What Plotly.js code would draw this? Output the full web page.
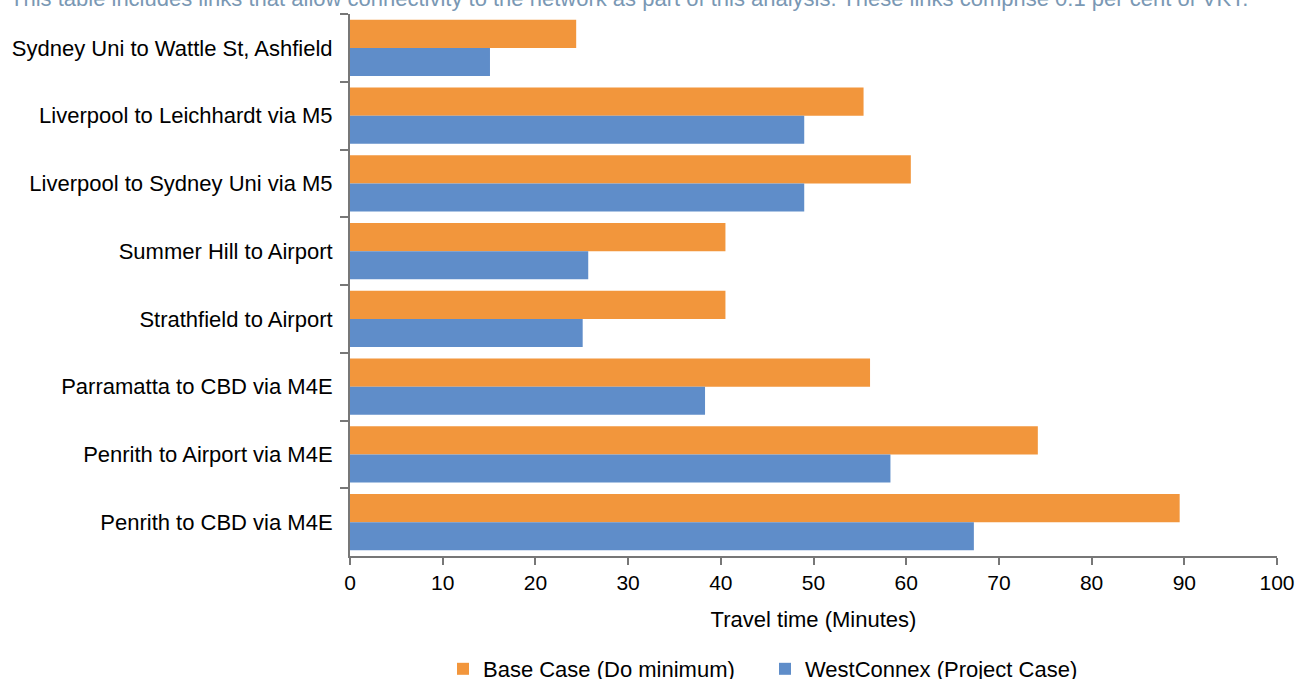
<!DOCTYPE html>
<html>
<head>
<meta charset="utf-8">
<script src="https://cdn.plot.ly/plotly-3.0.1.min.js"></script>
<style>html,body{margin:0;padding:0;background:#fff;}#chart{width:1296px;height:679px;}</style>
</head>
<body>
<div id="chart"></div>
<script>
const categories = [
  "Sydney Uni to Wattle St, Ashfield",
  "Liverpool to Leichhardt via M5",
  "Liverpool to Sydney Uni via M5",
  "Summer Hill to Airport",
  "Strathfield to Airport",
  "Parramatta to CBD via M4E",
  "Penrith to Airport via M4E",
  "Penrith to CBD via M4E"
];
const baseCase = [24.4, 55.4, 60.5, 40.5, 40.5, 56.1, 74.2, 89.5];
const westConnex = [15.1, 49.0, 49.0, 25.7, 25.1, 38.3, 58.3, 67.3];
const seriesNames = ["Base Case (Do minimum)", "WestConnex (Project Case)"];
const xTicks = [0, 10, 20, 30, 40, 50, 60, 70, 80, 90, 100];
const noteText = "This table includes links that allow connectivity to the network as part of this analysis. These links comprise 0.1 per cent of VKT.";

const FONT = "'Liberation Sans', Arial, sans-serif";
const axisColor = "#777777";

const traces = [
  {type: "bar", orientation: "h", name: seriesNames[0], y: categories, x: baseCase,
   marker: {color: "#F2963C"}, hoverinfo: "x"},
  {type: "bar", orientation: "h", name: seriesNames[1], y: categories, x: westConnex,
   marker: {color: "#5F8DC9"}, hoverinfo: "x"}
];

const layout = {
  width: 1296, height: 679,
  margin: {l: 350, r: 19, t: 14, b: 123, pad: 0, autoexpand: false},
  paper_bgcolor: "#ffffff", plot_bgcolor: "#ffffff",
  font: {family: FONT, size: 22, color: "#000000"},
  barmode: "group",
  bargap: 0.17, bargroupgap: 0,
  showlegend: true,
  legend: {orientation: "h", x: 0.1003, xanchor: "left", y: -0.2085, yanchor: "middle",
           font: {family: FONT, size: 22, color: "#000000"},
           entrywidth: 277, entrywidthmode: "pixels", traceorder: "normal"},
  xaxis: {range: [0, 100], tickvals: xTicks, ticktext: xTicks.map(String),
          showgrid: false, zeroline: false, showline: true, linecolor: axisColor, linewidth: 2,
          ticks: "outside", ticklen: 7, tickwidth: 2, tickcolor: axisColor,
          tickfont: {family: FONT, size: 21, color: "#000000"},
          title: {text: "Travel time (Minutes)", font: {family: FONT, size: 22, color: "#000000"}, standoff: 18}},
  yaxis: {type: "category", categoryorder: "array", categoryarray: categories,
          autorange: "reversed", showgrid: false, zeroline: false, showline: true,
          linecolor: axisColor, linewidth: 2, ticks: "outside", ticklen: 8, tickwidth: 2,
          tickcolor: axisColor, tickson: "boundaries", ticklabelstandoff: 11,
          tickfont: {family: FONT, size: 22, color: "#000000"}},
  annotations: [{text: noteText, xref: "paper", yref: "paper", x: (8 - 350)/927, xanchor: "left",
                 y: 1 + 1/542, yanchor: "bottom", showarrow: false,
                 font: {family: FONT, size: 22, color: "#7A98B4"}}]
};

Plotly.newPlot("chart", traces, layout, {displayModeBar: false, staticPlot: true});
</script>
</body>
</html>
